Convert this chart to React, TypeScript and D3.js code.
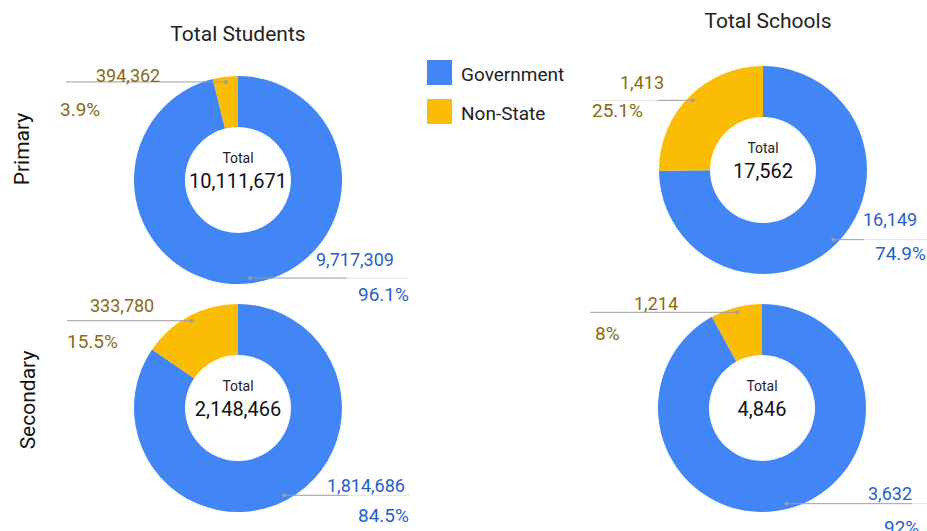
import React from 'react';
import * as d3 from 'd3';

const WIDTH = 927;
const HEIGHT = 531;

// data
const categories = ['Government', 'Non-State'];
const studentsPrimary = [9717309, 394362];
const studentsSecondary = [1814686, 333780];
const schoolsPrimary = [16149, 1413];
const schoolsSecondary = [3632, 1214];
// percentages as printed on the chart (slices follow these)
const studentsPrimaryPct = [96.1, 3.9];
const studentsSecondaryPct = [84.5, 15.5];
const schoolsPrimaryPct = [74.9, 25.1];
const schoolsSecondaryPct = [92, 8];
const columnTitles = ['Total Students', 'Total Schools'];
const rowTitles = ['Primary', 'Secondary'];

const COLORS = ['#4285f4', '#fbbc04'];
const TEXT_COLORS = ['#1f5fcf', '#8a6a0e'];
const FONT = 'Roboto, "Open Sans", sans-serif';

const OUTER = 104;
const INNER = 53;

// label layout offsets from the donut centre, per slice [gov, non-state]
const charts = [
  {
    values: studentsPrimary, pct: studentsPrimaryPct, cx: 238, cy: 180,
    labels: [
      { vx: 78, vy: 79, px: 120, py: 114, solid: 109, faint: 170 },
      { vx: -142, vy: -105, px: -178, py: -71, solid: -172, faint: -172 },
    ],
  },
  {
    values: studentsSecondary, pct: studentsSecondaryPct, cx: 238, cy: 408,
    labels: [
      { vx: 89, vy: 77, px: 120, py: 107, solid: 110, faint: 172 },
      { vx: -148, vy: -103, px: -171, py: -67, solid: -171, faint: -171 },
    ],
  },
  {
    values: schoolsPrimary, pct: schoolsPrimaryPct, cx: 763, cy: 170,
    labels: [
      { vx: 100, vy: 49, px: 112, py: 83, solid: 101, faint: 164 },
      { vx: -143, vy: -88, px: -171, py: -60, solid: -105, faint: -171 },
    ],
  },
  {
    values: schoolsSecondary, pct: schoolsSecondaryPct, cx: 762, cy: 408,
    labels: [
      { vx: 106, vy: 85, px: 122, py: 119, solid: 150, faint: 165 },
      { vx: -128, vy: -105, px: -167, py: -75, solid: -172, faint: -172 },
    ],
  },
];

const fmt = d3.format(',');
const pie = d3.pie<number>().sort(null).value(d => d);
const arc = d3.arc<d3.PieArcDatum<number>>().innerRadius(INNER).outerRadius(OUTER);
const dotArc = d3.arc<d3.PieArcDatum<number>>().innerRadius(OUTER * 0.95).outerRadius(OUTER * 0.95);

function Donut({ chart }: { chart: typeof charts[number] }) {
  const arcs = pie(chart.pct);
  const total = d3.sum(chart.values);
  return (
    <g transform={`translate(${chart.cx},${chart.cy})`}>
      {arcs.map((a, i) => (
        <path key={i} d={arc(a) || ''} fill={COLORS[i]} />
      ))}
      {arcs.map((a, i) => {
        const [dx, dy] = dotArc.centroid(a);
        const l = chart.labels[i];
        const pctText = d3.format('~r')(chart.pct[i]) + '%';
        return (
          <g key={'l' + i} fontFamily={FONT} fill={TEXT_COLORS[i]}>
            <line x1={l.solid} y1={dy} x2={l.faint} y2={dy} stroke="#e3e3e3" strokeWidth={1} />
            <line x1={dx} y1={dy} x2={l.solid} y2={dy} stroke="#9e9e9e" strokeWidth={1} />
            <circle cx={dx} cy={dy} r={2} fill="#9e9e9e" />
            <text x={l.vx} y={l.vy} fontSize={18} dominantBaseline="central">{fmt(chart.values[i])}</text>
            <text x={l.px} y={l.py} fontSize={19} dominantBaseline="central">{pctText}</text>
          </g>
        );
      })}
      <text y={-22} textAnchor="middle" dominantBaseline="central" fontFamily={FONT} fontSize={14} fill="#222">Total</text>
      <text y={1} textAnchor="middle" dominantBaseline="central" fontFamily={FONT} fontSize={20} fill="#111">{fmt(total)}</text>
    </g>
  );
}

export default function App() {
  return (
    <svg
      xmlns="http://www.w3.org/2000/svg"
      width={WIDTH}
      height={HEIGHT}
      style={{ position: 'absolute', left: 0, top: 0, background: '#fff' }}
    >
      <text x={238} y={34} textAnchor="middle" dominantBaseline="central" fontFamily={FONT} fontSize={21} fill="#222">{columnTitles[0]}</text>
      <text x={768} y={21} textAnchor="middle" dominantBaseline="central" fontFamily={FONT} fontSize={21} fill="#222">{columnTitles[1]}</text>
      <text transform="translate(22,149) rotate(-90)" textAnchor="middle" dominantBaseline="central" fontFamily={FONT} fontSize={21} fill="#111">{rowTitles[0]}</text>
      <text transform="translate(28,400) rotate(-90)" textAnchor="middle" dominantBaseline="central" fontFamily={FONT} fontSize={21} fill="#111">{rowTitles[1]}</text>
      {categories.map((c, i) => (
        <g key={c} transform={`translate(427,${60 + i * 39})`}>
          <rect width={25} height={25} fill={COLORS[i]} />
          <text x={34} y={14} dominantBaseline="central" fontFamily={FONT} fontSize={19} fill="#222">{c}</text>
        </g>
      ))}
      {charts.map((ch, i) => <Donut key={i} chart={ch} />)}
    </svg>
  );
}
